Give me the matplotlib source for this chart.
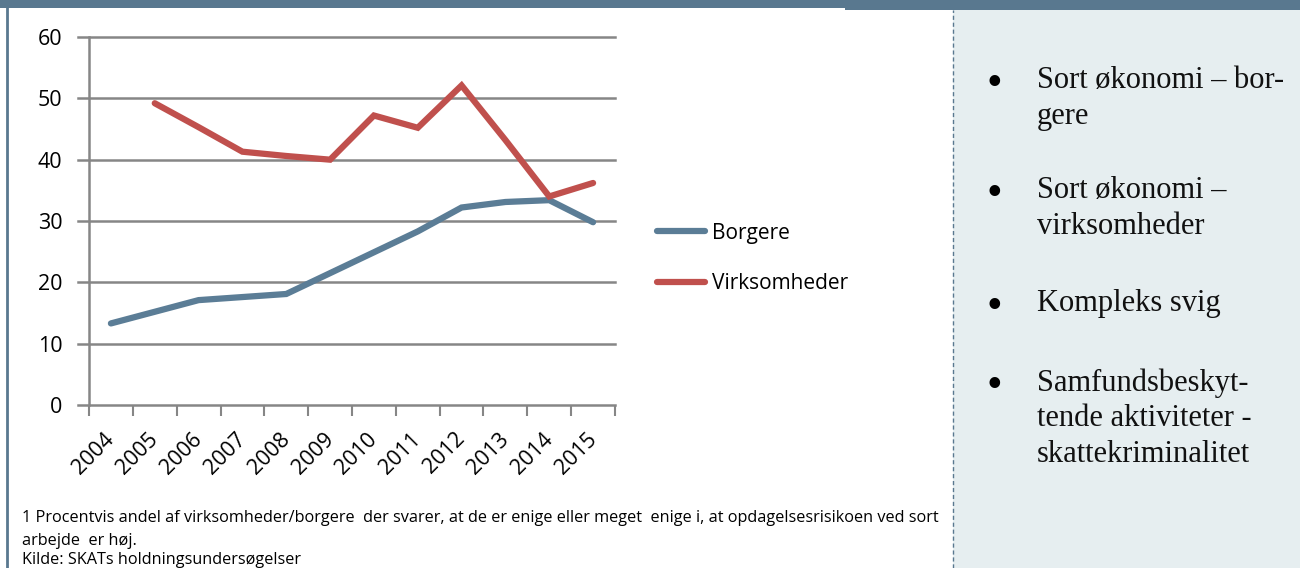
import matplotlib
matplotlib.use("Agg")
import matplotlib.pyplot as plt
import matplotlib.transforms as mtransforms
from matplotlib.patches import Rectangle
from matplotlib.lines import Line2D

years = ["2004", "2005", "2006", "2007", "2008", "2009", "2010", "2011", "2012", "2013", "2014", "2015"]
borgere = [13.3, 15.2, 17.1, 17.6, 18.1, 21.5, 24.9, 28.3, 32.2, 33.1, 33.4, 29.8]
virksomheder = [None, 49.2, 45.3, 41.3, 40.6, 40.0, 47.2, 45.2, 52.1, 43.2, 34.0, 36.2]
yticks = [0, 10, 20, 30, 40, 50, 60]
series_names = ["Borgere", "Virksomheder"]
bullets = ["Sort økonomi – bor-\ngere", "Sort økonomi –\nvirksomheder", "Kompleks svig",
           "Samfundsbeskyt-\ntende aktiviteter -\nskattekriminalitet"]
footnote1 = "1 Procentvis andel af virksomheder/borgere  der svarer, at de er enige eller meget  enige i, at opdagelsesrisikoen ved sort"
footnote2 = "arbejde  er høj."
source = "Kilde: SKATs holdningsundersøgelser"

W, H = 1300, 568
fig = plt.figure(figsize=(13, 5.68), dpi=100)
fig.patch.set_facecolor("white")

def fx(px): return px / W
def fy(py): return 1 - py / H

BAND = "#59788F"
# right panel background
fig.patches.append(Rectangle((fx(953), 0), fx(W - 953), fy(8), transform=fig.transFigure,
                             facecolor="#E6EEF0", edgecolor="none", zorder=0))
# top band
fig.patches.append(Rectangle((0, fy(8)), fx(845), 8 / H, transform=fig.transFigure,
                             facecolor=BAND, edgecolor="none", zorder=1))
fig.patches.append(Rectangle((fx(845), fy(10)), fx(W - 845), 10 / H, transform=fig.transFigure,
                             facecolor=BAND, edgecolor="none", zorder=1))
# left border
fig.lines.append(Line2D([fx(6.5), fx(6.5)], [0, fy(8)], transform=fig.transFigure, color=BAND, lw=2))
# dashed divider
fig.lines.append(Line2D([fx(953), fx(953)], [0, fy(10)], transform=fig.transFigure, color=BAND,
                        lw=1, linestyle=(0, (3, 2))))

ax = fig.add_axes([fx(89), fy(405), fx(615 - 89), (405 - 37) / H])
x = [i + 0.5 for i in range(len(years))]
blue = "#5B7D96"
red = "#C0504D"
ax.plot(x, borgere, color=blue, lw=4.5, solid_capstyle="round", solid_joinstyle="miter",
        label=series_names[0], zorder=3)
xv = [xi for xi, v in zip(x, virksomheder) if v is not None]
vv = [v for v in virksomheder if v is not None]
ax.plot(xv, vv, color=red, lw=4.5, solid_capstyle="round", solid_joinstyle="miter",
        label=series_names[1], zorder=3)

ax.set_xlim(0, len(years))
ax.set_ylim(0, 60)
ax.set_yticks(yticks)
ax.set_yticklabels([str(t) for t in yticks], fontsize=15.5, family="Open Sans")
for t in yticks:
    ax.axhline(t, color="#868686", lw=1.8, zorder=1, xmin=-11 / 526, clip_on=False)
ax.tick_params(axis="y", length=0, pad=19)
ax.set_xticks(x)
ax.set_xticklabels(years, rotation=45, ha="right", va="top", rotation_mode="anchor",
                   fontsize=15.5, family="Open Sans")
ax.set_xticks(range(len(years) + 1), minor=True)
ax.tick_params(axis="x", which="major", length=0, pad=17)
ax.tick_params(axis="x", which="minor", length=8, width=1.5, color="#868686")
offset = mtransforms.ScaledTranslation(-7 / 100, 0, fig.dpi_scale_trans)
for lab in ax.get_xticklabels():
    lab.set_transform(lab.get_transform() + offset)
for s in ["top", "right", "bottom"]:
    ax.spines[s].set_visible(False)
ax.spines["left"].set_color("#868686")
ax.spines["left"].set_linewidth(1.8)
ax.set_facecolor("none")

fig.legend(handles=ax.get_lines(), labels=series_names, loc="upper left",
           bbox_to_anchor=(fx(638), fy(204)), frameon=False,
           prop={"family": "Open Sans", "size": 15}, handlelength=2.3, labelspacing=1.4,
           handletextpad=0.35)

fn_font = dict(fontsize=11.7, family="Open Sans", va="center", ha="left")
fig.text(fx(22), fy(518), footnote1, **fn_font)
fig.text(fx(22), fy(541), footnote2, **fn_font)
fig.text(fx(22), fy(560), source, **fn_font)

ys = [80, 190, 303, 382]
for yy, txt in zip(ys, bullets):
    fig.text(fx(994), fy(yy + 4), "•", fontsize=32, family="Liberation Serif", va="center", ha="center")
    fig.text(fx(1037), fy(yy - 14), txt, fontsize=22, family="Liberation Serif", va="top", ha="left",
             linespacing=1.3, color="#111111")

fig.savefig("out.png", dpi=100)
